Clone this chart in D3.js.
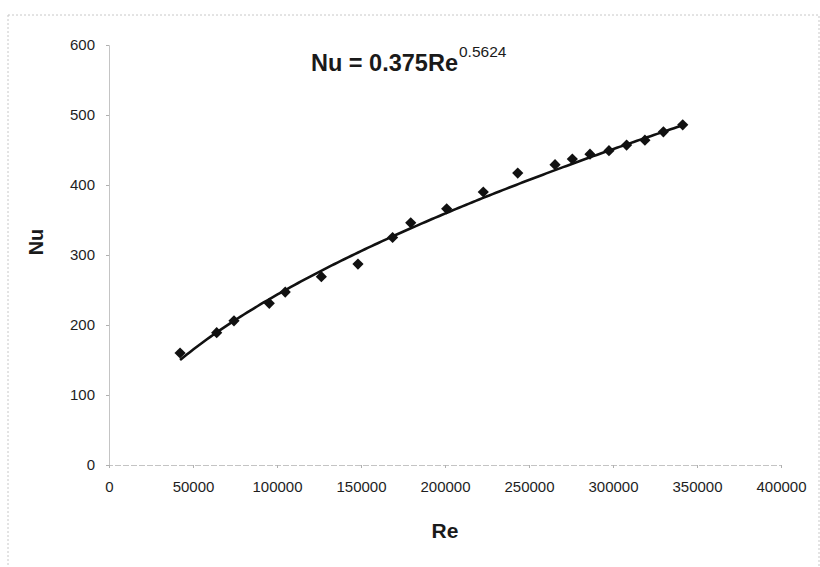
<!DOCTYPE html>
<html>
<head>
<meta charset="utf-8">
<script src="https://cdn.jsdelivr.net/npm/d3@7"></script>
<style>
  body { margin: 0; background: #fff; }
  text { font-family: "Liberation Sans", Arial, sans-serif; }
</style>
</head>
<body>
<div id="chart"></div>
<script>
var reValues = [42300, 64100, 74400, 95400, 104900, 126400, 148200, 168800, 179600, 201000,
                222800, 243300, 265500, 275800, 286300, 297600, 308100, 319000, 330000, 341500];
var nuValues = [160, 189, 206, 231, 247, 269, 287, 325, 346, 366,
                390, 417, 429, 437, 444, 449, 457, 464, 476, 486];
var xTicks = [0, 50000, 100000, 150000, 200000, 250000, 300000, 350000, 400000];
var yTicks = [0, 100, 200, 300, 400, 500, 600];
// Power trendline shown on the chart: Nu = a * Re^b
var trendA = 0.375, trendB = 0.5624;

var W = 820, H = 567;
var svg = d3.select("#chart").append("svg")
    .attr("width", W)
    .attr("height", H);

// faint chart-area border
svg.append("rect")
    .attr("x", 8).attr("y", 15)
    .attr("width", 811).attr("height", 560)
    .attr("fill", "none")
    .attr("stroke", "#c8c8c8")
    .attr("stroke-dasharray", "2,2");

var x = d3.scaleLinear().domain([0, 400000]).range([109, 781]);
var y = d3.scaleLinear().domain([0, 600]).range([465, 45]);

// y axis
var yAxis = svg.append("g")
    .attr("transform", "translate(" + x(0) + ",0)")
    .call(d3.axisLeft(y).tickValues(yTicks).tickSize(3).tickPadding(11).tickFormat(d3.format("d")));
yAxis.select(".domain").attr("stroke", "#c4c4c4");
yAxis.selectAll(".tick line").attr("stroke", "#b0b0b0");
yAxis.selectAll("text").attr("font-size", 15).attr("fill", "#1e1e1e");

// x axis
var xAxis = svg.append("g")
    .attr("transform", "translate(0," + y(0) + ")")
    .call(d3.axisBottom(x).tickValues(xTicks).tickSize(3).tickPadding(13).tickFormat(d3.format("d")));
xAxis.select(".domain").attr("stroke", "#c4c4c4").attr("stroke-dasharray", "6,2");
xAxis.selectAll(".tick line").attr("stroke", "#b0b0b0");
xAxis.selectAll("text").attr("font-size", 15).attr("fill", "#1e1e1e");

// trendline
var reMin = d3.min(reValues), reMax = d3.max(reValues);
var trend = d3.range(reMin, reMax, 2000).concat([reMax]).map(function(r) {
  return [r, trendA * Math.pow(r, trendB)];
});
svg.append("path")
    .datum(trend)
    .attr("fill", "none")
    .attr("stroke", "#111")
    .attr("stroke-width", 2.6)
    .attr("d", d3.line().x(function(d) { return x(d[0]); }).y(function(d) { return y(d[1]); }));

// markers
svg.selectAll(".pt")
    .data(reValues)
  .enter().append("path")
    .attr("class", "pt")
    .attr("transform", function(d, i) { return "translate(" + x(d) + "," + y(nuValues[i]) + ")"; })
    .attr("d", d3.symbol().type(d3.symbolDiamond2).size(80))
    .attr("fill", "#111");

// equation
var eq = svg.append("text")
    .attr("x", 311).attr("y", 71)
    .attr("font-size", 23.5)
    .attr("font-weight", "bold")
    .attr("fill", "#1a1a1a");
eq.append("tspan").text("Nu = 0.375Re");
eq.append("tspan").attr("dx", 1).attr("dy", -14).attr("font-size", 15.5).attr("font-weight", "normal").text("0.5624");

// axis titles
svg.append("text")
    .attr("x", x(200000)).attr("y", 538)
    .attr("text-anchor", "middle")
    .attr("font-size", 21)
    .attr("font-weight", "bold")
    .attr("fill", "#1a1a1a")
    .text("Re");

svg.append("text")
    .attr("transform", "translate(43,242) rotate(-90)")
    .attr("text-anchor", "middle")
    .attr("font-size", 20)
    .attr("font-weight", "bold")
    .attr("fill", "#1a1a1a")
    .text("Nu");
</script>
</body>
</html>
